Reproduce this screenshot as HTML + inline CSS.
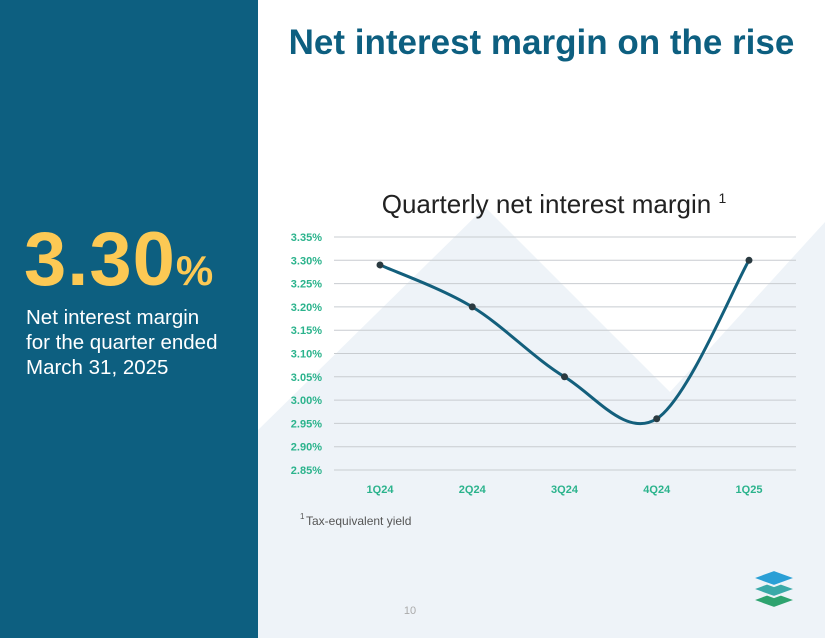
<!DOCTYPE html>
<html><head><meta charset="utf-8">
<style>
body{margin:0;width:825px;height:638px;overflow:hidden;font-family:"Liberation Sans",sans-serif;background:#fff;position:relative}
.left{position:absolute;left:0;top:0;width:258px;height:638px;background:#0d5f80}
.big{position:absolute;left:24px;top:216px;color:#fcc954;font-weight:bold;font-size:76px;letter-spacing:1px}
.big span{font-size:42px}
.sub{position:absolute;left:26px;top:305px;color:#fff;font-size:20.5px;line-height:25px}
.title{position:absolute;left:258px;width:567px;top:23px;text-align:center;color:#0d5f80;font-weight:bold;font-size:35px}
svg{position:absolute;left:0;top:0}
</style></head><body>
<svg width="825" height="638">
<polygon points="258,430 485,207 670,392 825,222 825,638 258,638" fill="#eef3f8"/>
<g id="g"></g>
</svg>
<div class="left">
<div class="big">3.30<span>%</span></div>
<div class="sub">Net interest margin<br>for the quarter ended<br>March 31, 2025</div>
</div>
<div class="title">Net interest margin on the rise</div>
<script>
const categories=["1Q24","2Q24","3Q24","4Q24","1Q25"];
const values=[3.29,3.20,3.05,2.96,3.30];
const ticks=[3.35,3.30,3.25,3.20,3.15,3.10,3.05,3.00,2.95,2.90,2.85];
const yMin=2.85,yMax=3.35,yTop=237,yBot=470,gx0=334,gx1=796;
const y=v=>yBot-(v-yMin)/(yMax-yMin)*(yBot-yTop);
const x=i=>380+i*92.25;
const NS="http://www.w3.org/2000/svg",g=document.getElementById('g');
function mk(t,a,txt){const e=document.createElementNS(NS,t);for(const k in a)e.setAttribute(k,a[k]);if(txt!=null)e.textContent=txt;g.appendChild(e);return e;}
let e=mk('text',{x:554,y:213,'text-anchor':'middle','font-size':26,fill:'#222'},'Quarterly net interest margin ');


const sup=document.createElementNS(NS,'tspan');sup.setAttribute('font-size',14);sup.setAttribute('dy',-10);sup.textContent='1';e.appendChild(sup);
ticks.forEach(t=>{
 let l=mk('line',{x1:gx0,x2:gx1,y1:y(t),y2:y(t),stroke:'#c8ccd0','stroke-width':1});
 
 
 let tx=mk('text',{x:322,y:y(t)+4,'text-anchor':'end','font-size':11,'font-weight':'bold',fill:'#2bb38c'},t.toFixed(2)+'%');
 
 
});
categories.forEach((c,i)=>{
 let tx=mk('text',{x:x(i),y:493,'text-anchor':'middle','font-size':11,'font-weight':'bold',fill:'#2bb38c'},c);
 
 
});
const P=values.map((v,i)=>[x(i),y(v)]);
let d='M'+P[0][0]+','+P[0][1];
for(let i=0;i<P.length-1;i++){
 const p0=P[Math.max(i-1,0)],p1=P[i],p2=P[i+1],p3=P[Math.min(i+2,P.length-1)];
 const c1=[p1[0]+(p2[0]-p0[0])/6,p1[1]+(p2[1]-p0[1])/6],c2=[p2[0]-(p3[0]-p1[0])/6,p2[1]-(p3[1]-p1[1])/6];
 d+=`C${c1},${c2},${p2}`;
}
let path=mk('path',{d:d,fill:'none',stroke:'#135f7c','stroke-width':3});


P.forEach((p,i)=>{
 let c=mk('circle',{cx:p[0],cy:p[1],r:3.5,fill:'#2a3a40'});
 
 
});
let fn=mk('text',{x:306,y:525,'font-size':12,fill:'#555'},'Tax-equivalent yield');


let fs=mk('text',{x:300,y:519,'font-size':8,fill:'#555'},'1');


let pn=mk('text',{x:410,y:614,'text-anchor':'middle','font-size':11,fill:'#aaa'},'10');


[['#2ea36f',600],['#3aa9a8',589],['#2a9fd6',578]].forEach(([col,cy])=>{
 let q=mk('polygon',{points:`752,${cy} 774,${cy-8} 796,${cy} 774,${cy+8}`,fill:col,stroke:'#eef3f8','stroke-width':2});
 
 
});
</script>
</body></html>
